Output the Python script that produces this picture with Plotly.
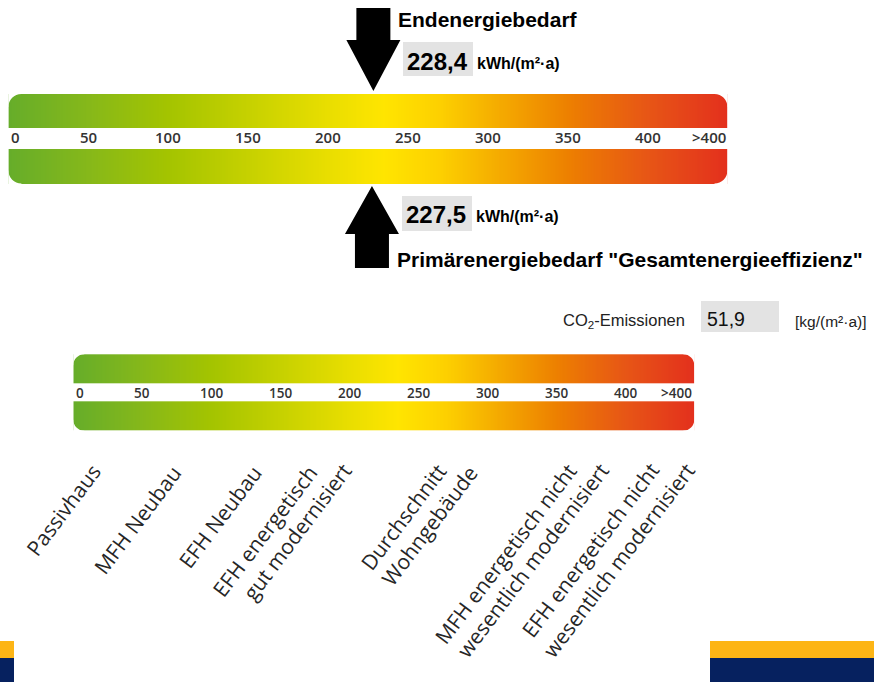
import numpy as np
import plotly.graph_objects as go

W, H = 874, 682

# ---- scale of the two energy bars, kWh/(m²·a) / kg/(m²·a) ----
SCALE_MAX = 450
TICK_VALUES = [0, 50, 100, 150, 200, 250, 300, 350, 400]
TICK_LABELS = ["0", "50", "100", "150", "200", "250", "300", "350", "400"]
OVERFLOW_LABEL = ">400"

# colour stops along the scale (green -> yellow -> red)
GRADIENT_VALUES = [0, 50, 100, 150, 200, 235, 270, 300, 350, 400, 450]
GRADIENT_COLORS = ["#66ad2a", "#86b81a", "#a4c400", "#c6d100", "#e9de00",
                   "#ffe500", "#fdd000", "#f6b200", "#ed8000", "#e75616", "#e3301d"]

# ---- values ----
END_ENERGY = 228.4        # Endenergiebedarf
PRIMARY_ENERGY = 227.5    # Primärenergiebedarf
CO2_EMISSIONS = 51.9      # CO2-Emissionen

# reference building types shown beneath the lower bar
REFERENCE_LABELS = [
    ["Passivhaus"],
    ["MFH Neubau"],
    ["EFH Neubau"],
    ["EFH energetisch", "gut modernisiert"],
    ["Durchschnitt", "Wohngebäude"],
    ["MFH energetisch nicht", "wesentlich modernisiert"],
    ["EFH energetisch nicht", "wesentlich modernisiert"],
]
# upper-right end of every label line (page pixels)
REFERENCE_ANCHORS = [
    [(110, 456)],
    [(190, 457)],
    [(270, 457)],
    [(326, 457), (360, 455)],
    [(455, 455), (487, 457)],
    [(585, 455), (618, 455)],
    [(668, 455), (704, 455)],
]


def de(v):
    return f"{v:.1f}".replace(".", ",")


fig = go.Figure()

colorscale = [[v / SCALE_MAX, c] for v, c in zip(GRADIENT_VALUES, GRADIENT_COLORS)]
edges = np.arange(0, SCALE_MAX + 1, 1.0)
centers = ((edges[:-1] + edges[1:]) / 2).tolist()

# bar geometry: axis, vertical band edges (top band / gap / bottom band), corner radius
BARS = [
    dict(axis="x2", y=[94, 127.7, 149.3, 183.5], r=13, tick_y=137, tick_size=15),
    dict(axis="x3", y=[354.3, 383.3, 401.7, 430.7], r=11, tick_y=392.5, tick_size=13.5),
]

shapes = []
annotations = []

for bar in BARS:
    fig.add_trace(go.Heatmap(
        x=edges, y=bar["y"],
        z=[centers, [None] * len(centers), centers],
        xaxis=bar["axis"], yaxis="y",
        colorscale=colorscale, zmin=0, zmax=SCALE_MAX,
        showscale=False, hoverinfo="skip",
    ))
    # rounded outer corners: white masks anchored at the bar ends
    r, k = bar["r"], 0.5523
    for v, dx in ((0, 1), (SCALE_MAX, -1)):
        for y0, dy in ((bar["y"][0], 1), (bar["y"][-1], -1)):
            path = (
                f"M {-dx * 2},{y0 - dy * 2} L {dx * r},{y0 - dy * 2} L {dx * r},{y0} "
                f"C {dx * r * (1 - k)},{y0} 0,{y0 + dy * r * (1 - k)} 0,{y0 + dy * r} "
                f"L {-dx * 2},{y0 + dy * r} Z"
            )
            shapes.append(dict(type="path", path=path, xref=bar["axis"], yref="y",
                               xsizemode="pixel", xanchor=v,
                               fillcolor="white", line=dict(width=0), layer="above"))
    tick_font = dict(family="Open Sans", size=bar["tick_size"], color="#333333", weight=600)
    for v, t in zip(TICK_VALUES, TICK_LABELS):
        annotations.append(dict(
            x=v, y=bar["tick_y"], xref=bar["axis"], yref="y", text=t, showarrow=False,
            xanchor="left" if v == 0 else "center", yanchor="middle",
            xshift=1 if v == 0 else 0, font=tick_font))
    annotations.append(dict(
        x=SCALE_MAX, y=bar["tick_y"], xref=bar["axis"], yref="y", text=OVERFLOW_LABEL,
        showarrow=False, xanchor="right", yanchor="middle", font=tick_font))

# arrows marking the two energy values on the upper bar
shapes.append(dict(type="path", xref="x2", yref="y", xsizemode="pixel", xanchor=END_ENERGY,
                   path="M -17,8 L 17,8 L 17,40 L 27,40 L 0,91 L -27,40 L -17,40 Z",
                   fillcolor="black", line=dict(width=0)))
shapes.append(dict(type="path", xref="x2", yref="y", xsizemode="pixel", xanchor=PRIMARY_ENERGY,
                   path="M -17,268 L 17,268 L 17,234 L 27,234 L 0,186 L -27,234 L -17,234 Z",
                   fillcolor="black", line=dict(width=0)))

# grey value boxes
BOX_GREY = "#e3e3e3"
for x0, y0, x1, y1 in ((403, 42, 473, 76), (402, 196, 472, 231), (701, 301, 779, 332)):
    shapes.append(dict(type="rect", xref="x", yref="y", x0=x0, y0=y0, x1=x1, y1=y1,
                       fillcolor=BOX_GREY, line=dict(width=0), layer="below"))

# footer stripes
ORANGE, NAVY = "#fdb515", "#06215f"
for x0, x1 in ((0, 14), (710, W)):
    shapes.append(dict(type="rect", xref="x", yref="y", x0=x0, x1=x1, y0=641, y1=658,
                       fillcolor=ORANGE, line=dict(width=0)))
    shapes.append(dict(type="rect", xref="x", yref="y", x0=x0, x1=x1, y0=658, y1=H,
                       fillcolor=NAVY, line=dict(width=0)))

HEAD = "Liberation Sans"


def text(x, y, s, size, weight="normal", color="black", family=HEAD):
    annotations.append(dict(x=x, y=y, xref="x", yref="y", text=s, showarrow=False,
                            xanchor="left", yanchor="middle",
                            font=dict(family=family, size=size, color=color, weight=weight)))


text(396, 19, "Endenergiebedarf", 21, "bold")
text(405, 61, de(END_ENERGY), 24, "bold")
text(475, 63, "kWh/(m²·a)", 16, "bold")
text(404, 214, de(PRIMARY_ENERGY), 24, "bold")
text(474, 216, "kWh/(m²·a)", 16, "bold")
text(395, 259, "Primärenergiebedarf \"Gesamtenergieeffizienz\"", 21, "bold")
text(561, 321, "CO<sub>2</sub>-Emissionen", 16.5, color="#222222")
text(705, 319, de(CO2_EMISSIONS), 19.5, color="#111111")
text(793, 321, "[kg/(m²·a)]", 15.5, color="#222222")

# rotated reference labels
for lines, anchors in zip(REFERENCE_LABELS, REFERENCE_ANCHORS):
    for line, (ax, ay) in zip(lines, anchors):
        annotations.append(dict(x=ax, y=ay, xref="x", yref="y", text=line, showarrow=False,
                                textangle=-53, xanchor="right", yanchor="top",
                                font=dict(family="Open Sans", size=21, color="#262626")))

hidden = dict(visible=False, fixedrange=True)
fig.update_layout(
    width=W, height=H, autosize=False,
    margin=dict(l=0, r=0, t=0, b=0, pad=0),
    paper_bgcolor="white", plot_bgcolor="rgba(0,0,0,0)",
    showlegend=False,
    xaxis=dict(range=[0, W], domain=[0, 1], **hidden),
    yaxis=dict(range=[H, 0], domain=[0, 1], **hidden),
    xaxis2=dict(range=[0, SCALE_MAX], domain=[8.4 / W, (8.4 + 1.598 * SCALE_MAX) / W],
                anchor="y", **hidden),
    xaxis3=dict(range=[0, SCALE_MAX], domain=[73.3 / W, (73.3 + 1.38 * SCALE_MAX) / W],
                anchor="y", **hidden),
    shapes=shapes,
    annotations=annotations,
)

fig.write_html("out.html")
